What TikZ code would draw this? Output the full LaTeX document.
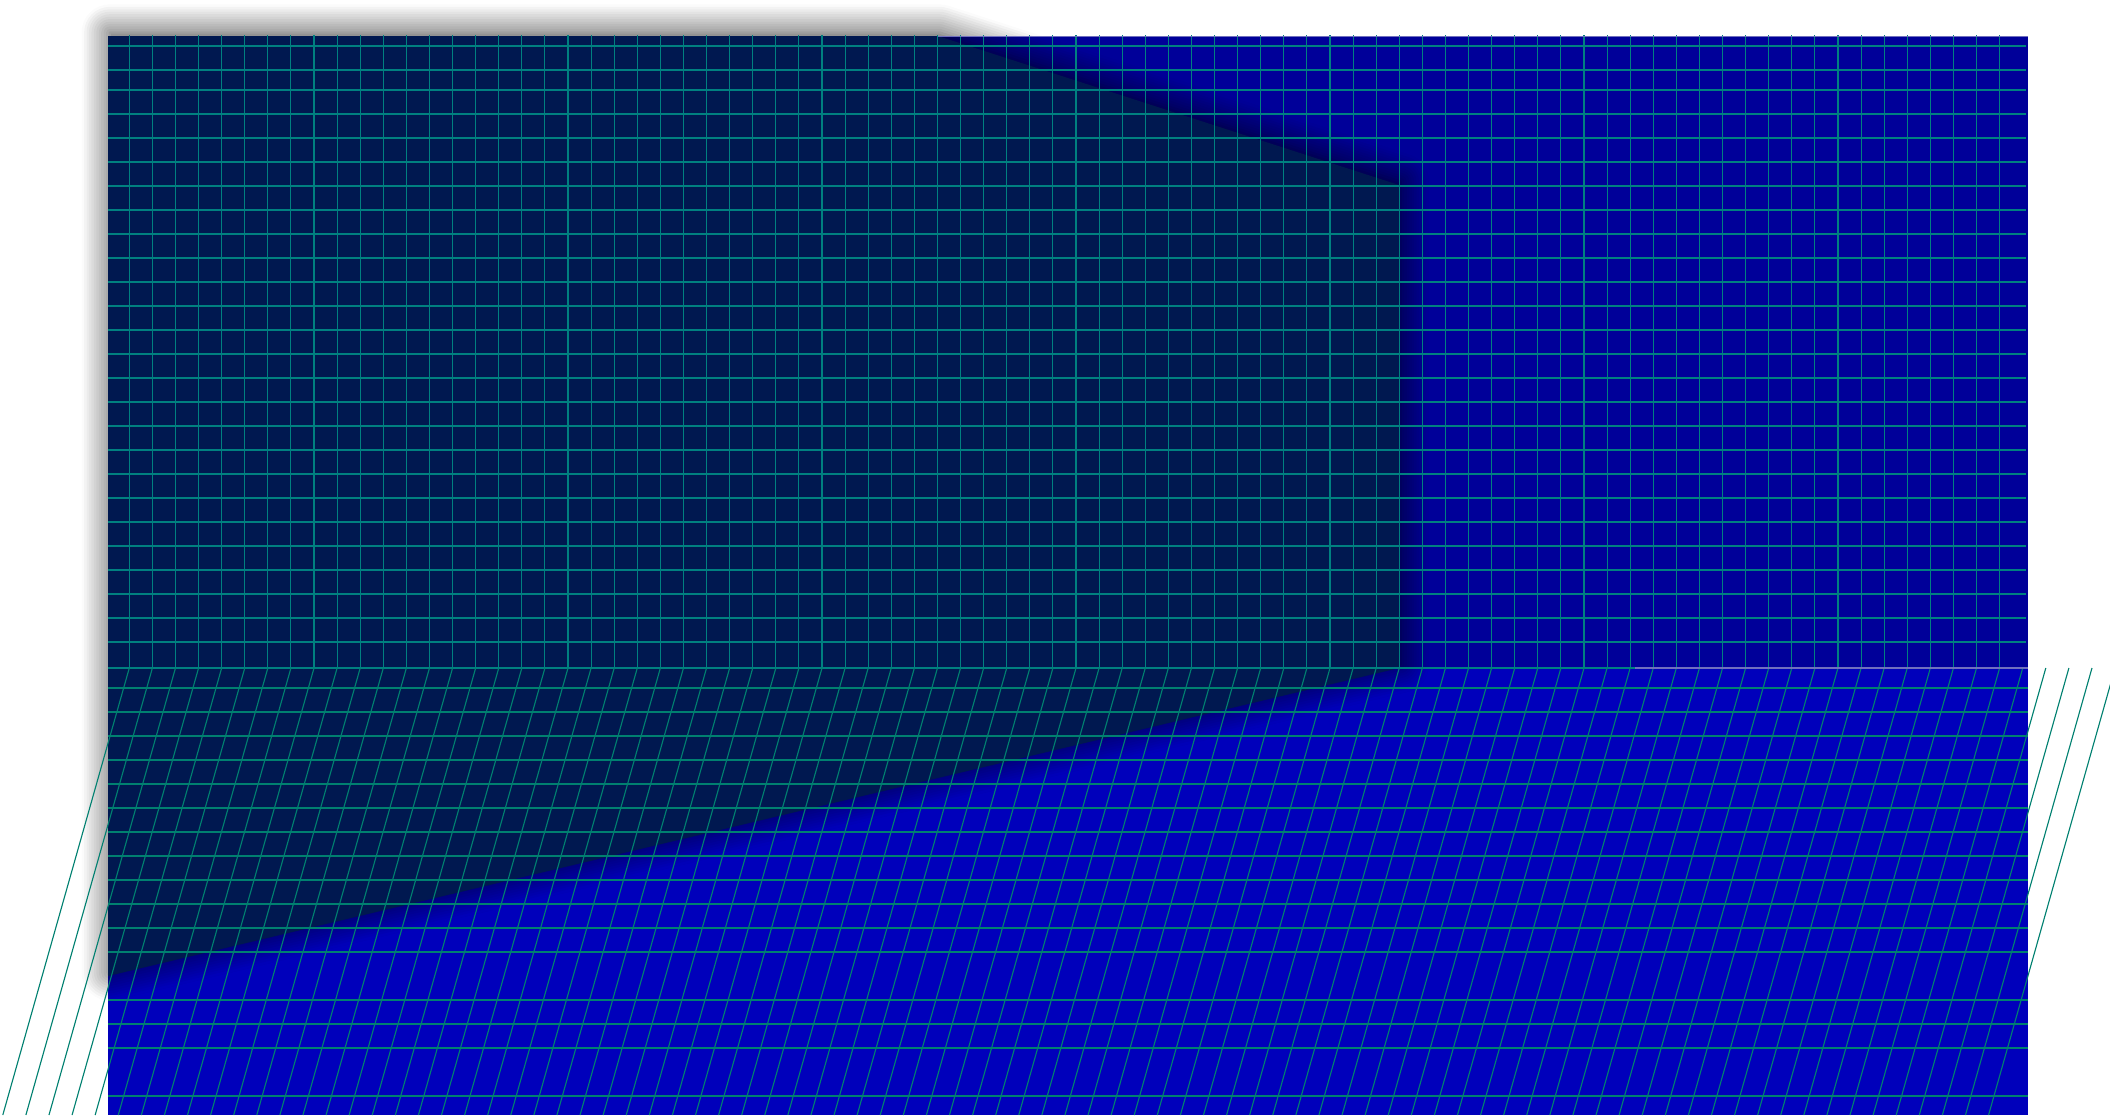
\documentclass[tikz,border=0pt]{standalone}
\usetikzlibrary{shadows.blur}

\definecolor{hornimodra}{RGB}{0,0,153}
\definecolor{spodnimodra}{RGB}{0,0,187}
\definecolor{tmava}{RGB}{0,24,80}
\definecolor{tyrkys}{RGB}{0,128,128}
\definecolor{tyrkys2}{RGB}{0,128,112}
\definecolor{lem}{RGB}{112,112,190}

\begin{document}
\begin{tikzpicture}[x=0.01cm, y=-0.01cm,
  mriz/.style={tyrkys, line width=0.32pt},
  mriz2/.style={tyrkys2, line width=0.32pt},
  okraj/.style={lem, line width=0.4pt}]

\useasboundingbox (0,0) rectangle (2110,1117);

% horní a spodní plocha
\fill[hornimodra] (108,36) rectangle (2028,668);
\fill[spodnimodra] (108,668) rectangle (2028,1115);

% tmavá plocha se stínem
\fill[tmava, blur shadow={shadow xshift=0.5pt, shadow yshift=1pt,
    shadow blur radius=8pt, shadow blur steps=12, shadow opacity=75}]
  (108,36) -- (938,36) -- (1399,185) -- (1399,668) -- (108,976) -- cycle;

% mřížka nahoře
\foreach \i in {0,...,81}
  \draw[mriz] ({129.3+23.09*\i},35) -- ++(0,633);
\foreach \y in {46,70}
  \draw[mriz] (108,\y) -- (2026,\y);
\foreach \y in {90,114,...,642}
  \draw[mriz] (108,\y) -- (2026,\y);
\draw[mriz] (108,668) -- (1635,668);

% mřížka dole
\foreach \y in {688,712,...,952}
  \draw[mriz2] (108,\y) -- (2028,\y);
\foreach \y in {1000,1024,1048,1096}
  \draw[mriz2] (108,\y) -- (2028,\y);
\foreach \i in {0,...,86}
  \draw[mriz2] ({129.3+23.09*\i},668) -- ++(-126.5,447);

% světlé okraje
\draw[okraj] (938,36.5) -- (2028,36.5);
\draw[okraj] (1635,668) -- (2028,668);

\end{tikzpicture}
\end{document}
